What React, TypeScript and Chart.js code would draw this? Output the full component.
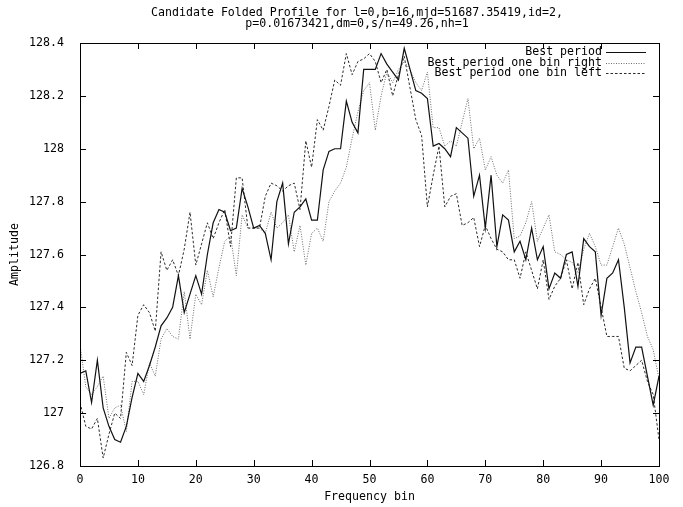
import React, { useEffect, useRef } from "react";
import { Chart, registerables } from "chart.js";

Chart.register(...registerables);

const titleLines = [
  "Candidate Folded Profile for l=0,b=16,mjd=51687.35419,id=2,",
  "p=0.01673421,dm=0,s/n=49.26,nh=1",
];
const xTitle = "Frequency bin";
const yTitle = "Amplitude";
const seriesNames = ["Best period", "Best period one bin right", "Best period one bin left"];

const bins: number[] = Array.from({ length: 101 }, (_, i) => i);

const bestPeriod = [
  127.15, 127.16, 127.04, 127.20, 127.02, 126.95, 126.90, 126.89, 126.95, 127.06,
  127.15, 127.12, 127.18, 127.25, 127.33, 127.36, 127.40, 127.52, 127.38, 127.45,
  127.52, 127.45, 127.60, 127.72, 127.77, 127.76, 127.69, 127.70, 127.85, 127.78,
  127.70, 127.71, 127.68, 127.58, 127.80, 127.87, 127.64, 127.76, 127.78, 127.81,
  127.73, 127.73, 127.92, 127.99, 128.00, 128.00, 128.18, 128.10, 128.06, 128.30,
  128.30, 128.30, 128.36, 128.32, 128.29, 128.26, 128.38, 128.30, 128.22, 128.21,
  128.19, 128.01, 128.02, 128.00, 127.97, 128.08, 128.06, 128.04, 127.82, 127.90,
  127.70, 127.90, 127.63, 127.75, 127.73, 127.61, 127.65, 127.58, 127.70, 127.58,
  127.63, 127.47, 127.53, 127.51, 127.60, 127.61, 127.48, 127.66, 127.63, 127.61,
  127.37, 127.51, 127.53, 127.58, 127.40, 127.19, 127.25, 127.25, 127.14, 127.03,
  127.14,
];

const oneBinRight = [
  127.26, 127.10, 127.07, 127.10, 127.14, 126.98, 127.02, 127.03, 126.93, 127.12,
  127.12, 127.07, 127.19, 127.14, 127.28, 127.32, 127.29, 127.28, 127.46, 127.28,
  127.45, 127.41, 127.54, 127.44, 127.55, 127.65, 127.67, 127.52, 127.75, 127.70,
  127.70, 127.70, 127.68, 127.76, 127.70, 127.72, 127.75, 127.61, 127.71, 127.56,
  127.68, 127.70, 127.65, 127.80, 127.84, 127.87, 127.93, 128.04, 128.14, 128.22,
  128.25, 128.07, 128.20, 128.29, 128.25, 128.30, 128.33, 128.30, 128.25, 128.22,
  128.29, 128.08, 128.08, 128.01, 128.03, 128.01, 128.10, 128.19, 128.00, 128.04,
  127.92, 127.97, 127.90, 127.87, 127.92, 127.66, 127.67, 127.72, 127.80, 127.65,
  127.70, 127.75, 127.61, 127.60, 127.58, 127.57, 127.53, 127.62, 127.68, 127.63,
  127.56, 127.56, 127.63, 127.70, 127.64, 127.55, 127.46, 127.38, 127.29, 127.24,
  127.13,
];

const oneBinLeft = [
  127.04, 126.95, 126.94, 126.98, 126.83, 126.92, 127.00, 126.98, 127.23, 127.18,
  127.37, 127.41, 127.38, 127.31, 127.61, 127.54, 127.58, 127.52, 127.62, 127.76,
  127.56, 127.64, 127.72, 127.66, 127.72, 127.77, 127.63, 127.89, 127.89, 127.70,
  127.70, 127.70, 127.82, 127.87, 127.86, 127.84, 127.86, 127.87, 127.77, 128.03,
  127.93, 128.11, 128.07, 128.16, 128.26, 128.24, 128.36, 128.28, 128.33, 128.34,
  128.36, 128.33, 128.25, 128.30, 128.20, 128.28, 128.35, 128.23, 128.11, 128.05,
  127.78, 127.90, 128.01, 127.78, 127.82, 127.83, 127.71, 127.72, 127.74, 127.63,
  127.71, 127.66, 127.62, 127.61, 127.58, 127.58, 127.51, 127.61, 127.54, 127.47,
  127.58, 127.43, 127.48, 127.51, 127.58, 127.47, 127.57, 127.41, 127.47, 127.51,
  127.40, 127.29, 127.29, 127.29, 127.17, 127.16, 127.18, 127.20, 127.12, 127.07,
  126.90,
];

const xTicks = [0, 10, 20, 30, 40, 50, 60, 70, 80, 90, 100];
const yTicks = [126.8, 127, 127.2, 127.4, 127.6, 127.8, 128, 128.2, 128.4];

const FONT = "'DejaVu Sans Mono', 'Liberation Mono', monospace";
const FONT_SIZE = 11.6;

const styles = [
  { color: "#111111", width: 1.2, dash: [] as number[] },
  { color: "#6a6a6a", width: 1, dash: [1, 1.5] },
  { color: "#2a2a2a", width: 1, dash: [2.5, 2] },
];

const decorPlugin = {
  id: "gnuplotDecor",
  afterDraw(chart: any) {
    const { ctx, chartArea } = chart;
    const xs = chart.scales.x;
    const ys = chart.scales.y;
    const { left, right, top, bottom } = chartArea;
    ctx.save();
    // frame
    ctx.strokeStyle = "#000";
    ctx.lineWidth = 1;
    ctx.setLineDash([]);
    ctx.strokeRect(Math.round(left) + 0.5, Math.round(top) + 0.5, Math.round(right - left), Math.round(bottom - top));
    // inward ticks, mirrored
    const tl = 6;
    ctx.beginPath();
    xTicks.forEach((v) => {
      const px = Math.round(xs.getPixelForValue(v)) + 0.5;
      ctx.moveTo(px, bottom);
      ctx.lineTo(px, bottom - tl);
      ctx.moveTo(px, top);
      ctx.lineTo(px, top + tl);
    });
    yTicks.forEach((v) => {
      const py = Math.round(ys.getPixelForValue(v)) + 0.5;
      ctx.moveTo(left, py);
      ctx.lineTo(left + tl, py);
      ctx.moveTo(right, py);
      ctx.lineTo(right - tl, py);
    });
    ctx.stroke();
    // title
    ctx.fillStyle = "#000";
    ctx.font = `${FONT_SIZE}px ${FONT}`;
    ctx.textAlign = "center";
    ctx.textBaseline = "middle";
    const tcx = 357;
    ctx.fillText(titleLines[0], tcx, 13);
    ctx.fillText(titleLines[1], tcx, 23.5);
    // legend
    const rows = [52, 62.5, 73];
    const textRight = 602;
    const lineL = 606;
    const lineR = 646;
    seriesNames.forEach((name, i) => {
      ctx.textAlign = "right";
      ctx.fillStyle = "#000";
      ctx.fillText(name, textRight, rows[i]);
      ctx.beginPath();
      ctx.strokeStyle = styles[i].color;
      ctx.lineWidth = styles[i].width;
      ctx.setLineDash(styles[i].dash);
      ctx.moveTo(lineL, Math.round(rows[i]) + 0.5);
      ctx.lineTo(lineR, Math.round(rows[i]) + 0.5);
      ctx.stroke();
    });
    ctx.restore();
  },
};

export default function App() {
  const ref = useRef<HTMLCanvasElement | null>(null);
  useEffect(() => {
    if (!ref.current) return;
    const series = [bestPeriod, oneBinRight, oneBinLeft];
    const chart = new Chart(ref.current, {
      type: "line",
      data: {
        datasets: series.map((vals, i) => ({
          label: seriesNames[i],
          data: bins.map((b, j) => ({ x: b, y: vals[j] })),
          borderColor: styles[i].color,
          borderWidth: styles[i].width,
          borderDash: styles[i].dash,
          pointRadius: 0,
          tension: 0,
          fill: false,
        })),
      },
      options: {
        animation: false,
        responsive: false,
        devicePixelRatio: 1,
        layout: { padding: { top: 43, right: 24, bottom: 0, left: 0 } },
        plugins: {
          legend: { display: false },
          title: { display: false },
          tooltip: { enabled: false },
        },
        scales: {
          x: {
            type: "linear",
            min: 0,
            max: 100,
            afterFit: (s: any) => {
              s.height = 41;
            },
            afterBuildTicks: (s: any) => {
              s.ticks = xTicks.map((v) => ({ value: v }));
            },
            grid: { display: false, drawTicks: false },
            border: { display: false },
            ticks: {
              padding: 7.5,
              color: "#000",
              font: { family: FONT, size: FONT_SIZE },
              maxRotation: 0,
              autoSkip: false,
              callback: (v: any) => String(v),
            },
            title: {
              display: true,
              text: xTitle,
              color: "#000",
              font: { family: FONT, size: FONT_SIZE },
              padding: { top: 0, bottom: 3 },
            },
          },
          y: {
            type: "linear",
            min: 126.8,
            max: 128.4,
            afterFit: (s: any) => {
              s.width = 80;
            },
            afterBuildTicks: (s: any) => {
              s.ticks = yTicks.map((v) => ({ value: v }));
            },
            grid: { display: false, drawTicks: false },
            border: { display: false },
            ticks: {
              padding: 16,
              color: "#000",
              font: { family: FONT, size: FONT_SIZE },
              autoSkip: false,
              callback: (v: any) => String(Math.round(Number(v) * 10) / 10),
            },
            title: {
              display: true,
              text: yTitle,
              color: "#000",
              font: { family: FONT, size: FONT_SIZE },
              padding: { top: 8, bottom: 0 },
            },
          },
        },
      },
      plugins: [decorPlugin],
    });
    return () => chart.destroy();
  }, []);
  return (
    <div style={{ position: "absolute", left: 0, top: 0, width: 683, height: 507, background: "#fff" }}>
      <canvas ref={ref} width={683} height={507} />
    </div>
  );
}
